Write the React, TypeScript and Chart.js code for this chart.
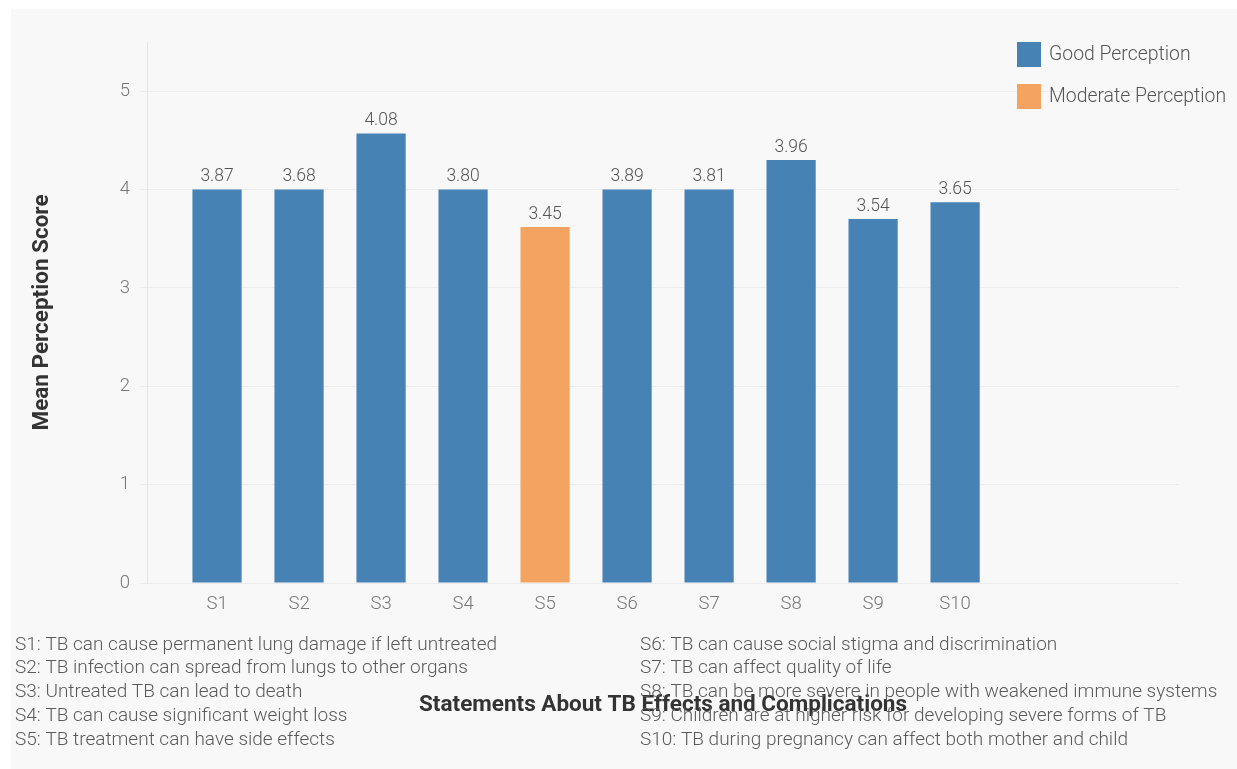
import React, { useEffect, useRef } from 'react';
import { Chart, registerables } from 'chart.js';

Chart.register(...registerables);

// ---- Data ----
const categories = ['S1', 'S2', 'S3', 'S4', 'S5', 'S6', 'S7', 'S8', 'S9', 'S10'];
// bar heights as drawn in the picture
const barHeights = [4.0, 4.0, 4.57, 4.0, 3.62, 4.0, 4.0, 4.3, 3.7, 3.87];
// value labels printed above the bars
const valueLabels = ['3.87', '3.68', '4.08', '3.80', '3.45', '3.89', '3.81', '3.96', '3.54', '3.65'];
const perception = ['Good', 'Good', 'Good', 'Good', 'Moderate', 'Good', 'Good', 'Good', 'Good', 'Good'];
const seriesKeys = ['Good', 'Moderate'];
const seriesNames = ['Good Perception', 'Moderate Perception'];
const seriesColors = ['#4682b4', '#f4a460'];
const yTickValues = [0, 1, 2, 3, 4, 5];
const statementsLeft = [
  'S1: TB can cause permanent lung damage if left untreated',
  'S2: TB infection can spread from lungs to other organs',
  'S3: Untreated TB can lead to death',
  'S4: TB can cause significant weight loss',
  'S5: TB treatment can have side effects',
];
const statementsRight = [
  'S6: TB can cause social stigma and discrimination',
  'S7: TB can affect quality of life',
  'S8: TB can be more severe in people with weakened immune systems',
  'S9: Children are at higher risk for developing severe forms of TB',
  'S10: TB during pregnancy can affect both mother and child',
];
const yTitle = 'Mean Perception Score';
const xTitle = 'Statements About TB Effects and Complications';

const FONT = 'Roboto';

const overlayPlugin = {
  id: 'overlay',
  afterDatasetsDraw(chart: any) {
    const ctx = chart.ctx;
    ctx.save();
    ctx.font = `300 17.5px ${FONT}`;
    ctx.fillStyle = '#555';
    ctx.textAlign = 'center';
    ctx.textBaseline = 'bottom';
    chart.data.datasets.forEach((ds: any, di: number) => {
      const meta = chart.getDatasetMeta(di);
      meta.data.forEach((el: any, i: number) => {
        const idx = ds.data[i].x;
        ctx.fillText(valueLabels[idx], el.x, el.y - 4);
      });
    });
    ctx.restore();
  },
  afterDraw(chart: any) {
    const ctx = chart.ctx;
    ctx.save();
    // legend
    ctx.font = `300 19.4px ${FONT}`;
    ctx.textBaseline = 'middle';
    ctx.textAlign = 'left';
    seriesNames.forEach((name, i) => {
      const y = 33 + i * 42;
      ctx.fillStyle = seriesColors[i];
      ctx.fillRect(1006, y, 24, 25);
      ctx.fillStyle = '#555';
      ctx.fillText(name, 1038, y + 13);
    });
    // statements
    ctx.font = `300 19px ${FONT}`;
    ctx.fillStyle = '#5a5a5a';
    statementsLeft.forEach((s, i) => ctx.fillText(s, 4, 636 + i * 23.7));
    statementsRight.forEach((s, i) => ctx.fillText(s, 629, 636 + i * 23.7));
    ctx.restore();
  },
};

export default function App() {
  const ref = useRef<HTMLCanvasElement | null>(null);
  useEffect(() => {
    if (!ref.current) return;
    const datasets = seriesKeys.map((key, si) => ({
      label: seriesNames[si],
      data: categories
        .map((_, i) => ({ x: i, y: barHeights[i], key: perception[i] }))
        .filter((p) => p.key === key)
        .map((p) => ({ x: p.x, y: p.y })),
      backgroundColor: seriesColors[si],
      borderWidth: 0,
      grouped: false,
      barPercentage: 0.6,
      categoryPercentage: 1,
    }));
    const chart = new Chart(ref.current, {
      type: 'bar',
      data: { datasets },
      plugins: [overlayPlugin],
      options: {
        responsive: false,
        animation: false,
        devicePixelRatio: 1,
        layout: { padding: { left: 0, top: 33, right: 58, bottom: 0 } },
        plugins: {
          legend: { display: false },
          tooltip: { enabled: false },
          title: { display: false },
        },
        scales: {
          x: {
            type: 'linear',
            offset: false,
            min: -0.854,
            max: 11.73,
            grid: { display: false, drawTicks: false },
            border: { display: false },
            ticks: {
              stepSize: 1,
              autoSkip: false,
              maxRotation: 0,
              includeBounds: false,
              padding: 10,
              color: '#777',
              font: { family: FONT, size: 18.5, weight: '300' },
              callback: (v: any) => {
                const n = Number(v);
                return Number.isInteger(n) && n >= 0 && n < categories.length ? categories[n] : '';
              },
            },
            title: {
              display: true,
              text: xTitle,
              color: '#333',
              font: { family: FONT, size: 22.5, weight: 'bold' },
              padding: { top: 0, bottom: 50.5 },
            },
            afterFit: (scale: any) => {
              scale.height = 186;
            },
          },
          y: {
            min: 0,
            max: 5.5,
            grid: { color: '#ececec', tickLength: 7, drawTicks: true },
            border: { display: true, color: '#e4e4e4' },
            ticks: {
              includeBounds: false,
              stepSize: 1,
              padding: 10,
              color: '#777',
              font: { family: FONT, size: 18.5, weight: '300' },
              callback: (v: any) => (yTickValues.includes(Number(v)) ? String(v) : ''),
            },
            title: {
              display: true,
              text: yTitle,
              color: '#333',
              font: { family: FONT, size: 22.5, weight: 'bold' },
              padding: { top: 17.5, bottom: 0 },
            },
            afterFit: (scale: any) => {
              scale.width = 136;
            },
          },
        },
      },
    });
    return () => chart.destroy();
  }, []);
  return (
    <div style={{ position: 'absolute', left: 0, top: 0, width: 1237, height: 769, background: '#ffffff' }}>
      <div style={{ position: 'absolute', left: 11, top: 9, width: 1226, height: 760, background: '#f8f8f8' }}>
        <canvas ref={ref} width={1226} height={760} style={{ display: 'block' }} />
      </div>
    </div>
  );
}
